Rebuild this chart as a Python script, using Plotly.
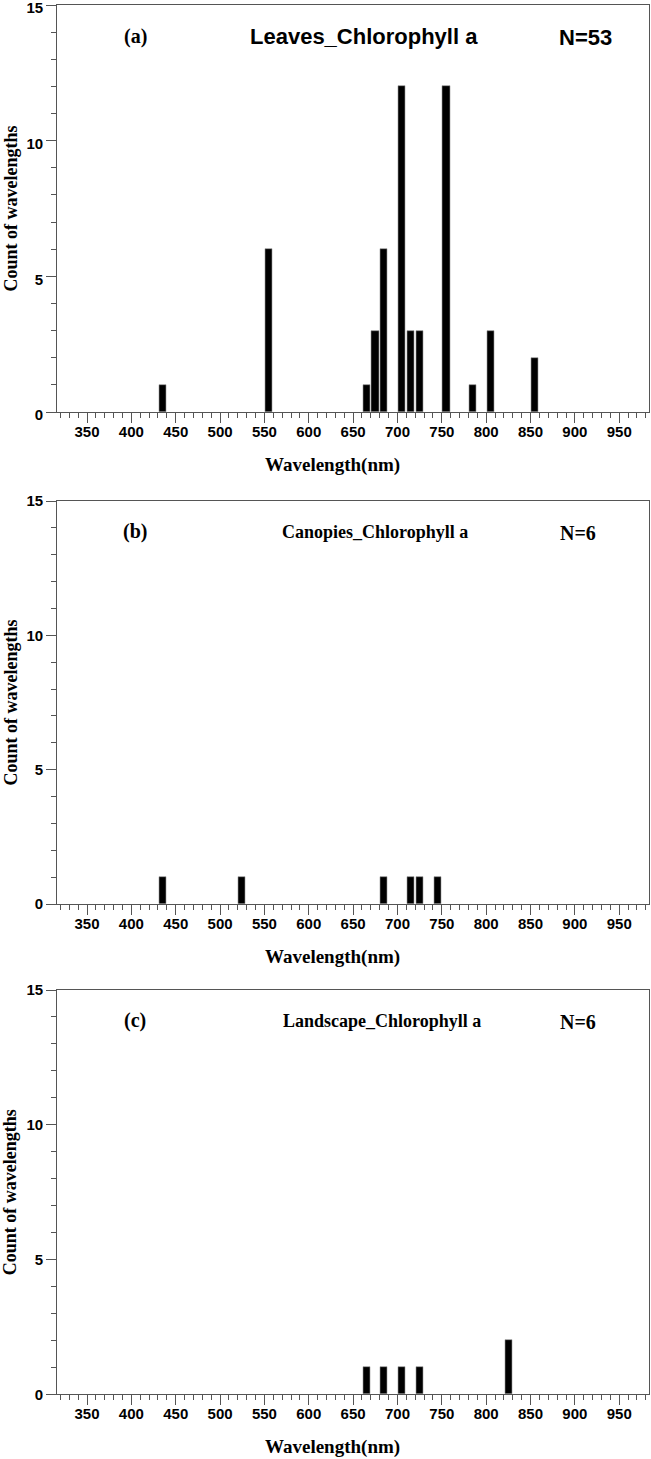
import plotly.graph_objects as go

# Data
leaves_wl = [435, 555, 665, 675, 685, 705, 715, 725, 755, 785, 805, 855]
leaves_cnt = [1, 6, 1, 3, 6, 12, 3, 3, 12, 1, 3, 2]
canopies_wl = [435, 525, 685, 715, 725, 745]
canopies_cnt = [1, 1, 1, 1, 1, 1]
landscape_wl = [665, 685, 705, 725, 825]
landscape_cnt = [1, 1, 1, 1, 2]

x_ticks = list(range(350, 951, 50))
y_ticks = [0, 5, 10, 15]

panels = [
    ("(a)", "Leaves_Chlorophyll a", "N=53", leaves_wl, leaves_cnt, "Liberation Sans"),
    ("(b)", "Canopies_Chlorophyll a", "N=6", canopies_wl, canopies_cnt, "Liberation Serif"),
    ("(c)", "Landscape_Chlorophyll a", "N=6", landscape_wl, landscape_cnt, "Liberation Serif"),
]

W, H = 651, 1459
# pixel geometry (top, bottom) of each plot area
boxes = [(5, 412), (501, 904), (990, 1394.3)]
x_left, x_right = 57.3, 648.5

def py(p):
    return 1 - p / H

fig = go.Figure()
annotations = []
axis_color = "#555555"
tickfont = dict(family="Liberation Sans", size=15, color="black", weight="bold")

for i, (lab, title, n, wl, cnt, tfam) in enumerate(panels):
    k = "" if i == 0 else str(i + 1)
    top, bot = boxes[i]
    fig.add_trace(go.Bar(
        x=wl, y=cnt, width=8,
        marker=dict(color="black", line=dict(color="#999999", width=0.6)),
        xaxis="x" + k, yaxis="y" + k, showlegend=False, hoverinfo="skip",
    ))
    fig.layout["xaxis" + k] = dict(
        domain=[x_left / W, x_right / W], anchor="y" + k, automargin=False,
        range=[316.5, 983], tickvals=x_ticks, ticks="outside", ticklen=10,
        tickwidth=1.2, tickcolor=axis_color, showline=True, linecolor=axis_color,
        linewidth=1.2, mirror=True, showgrid=False, zeroline=False,
        tickfont=tickfont, ticklabelstandoff=-4, ticklabeloverflow="allow",
        minor=dict(dtick=10, tick0=0, ticks="outside", ticklen=5, tickwidth=1,
                   tickcolor=axis_color, showgrid=False),
    )
    fig.layout["yaxis" + k] = dict(
        domain=[py(bot), py(top)], anchor="x" + k, automargin=False,
        range=[0, 15], tickvals=y_ticks, ticks="outside", ticklen=10,
        tickwidth=1.2, tickcolor=axis_color, showline=True, linecolor=axis_color,
        linewidth=1.2, mirror=True, showgrid=False, zeroline=False,
        tickfont=tickfont, ticklabeloverflow="allow",
        ticklabelshift=3 if i == 0 else 0,
        minor=dict(dtick=1, tick0=0, ticks="outside", ticklen=5, tickwidth=1,
                   tickcolor=axis_color, showgrid=False),
    )
    ty = top + 31
    serif_b = dict(family="Liberation Serif", size=20, color="black", weight="bold")
    annotations.append(dict(text=lab, x=135 / W, y=py(ty), xref="paper", yref="paper",
                            showarrow=False, font=serif_b, xanchor="center", yanchor="middle"))
    fs = 22 if i == 0 else 18
    tf = dict(family=tfam, size=fs, color="black", weight="bold")
    tx = [364, 375, 382][i]
    annotations.append(dict(text=title, x=tx / W, y=py(ty), xref="paper", yref="paper",
                            showarrow=False, font=tf, xanchor="center", yanchor="middle"))
    nf = dict(family=tfam, size=22 if i == 0 else 20, color="black", weight="bold")
    nx = [585, 578, 578][i]
    annotations.append(dict(text=n, x=nx / W, y=py(ty + 1), xref="paper", yref="paper",
                            showarrow=False, font=nf, xanchor="center", yanchor="middle"))
    annotations.append(dict(text="Wavelength(nm)", x=332 / W, y=py(bot + 53),
                            xref="paper", yref="paper", showarrow=False,
                            font=dict(family="Liberation Serif", size=19, color="black", weight="bold"),
                            xanchor="center", yanchor="middle"))
    annotations.append(dict(text="Count of wavelengths", x=10 / W, y=py((top + bot) / 2),
                            xref="paper", yref="paper", showarrow=False, textangle=-90,
                            font=dict(family="Liberation Serif", size=18, color="black", weight="bold"),
                            xanchor="center", yanchor="middle"))

fig.update_layout(
    width=W, height=H, margin=dict(l=0, r=0, t=0, b=0, autoexpand=False),
    paper_bgcolor="white", plot_bgcolor="white",
    annotations=annotations, bargap=0,
)

fig.write_html(
    "out.html",
    config={"displayModeBar": False},
    post_script="document.body.style.margin='0';document.body.style.padding='0';"
                "document.documentElement.style.overflow='hidden';",
)
